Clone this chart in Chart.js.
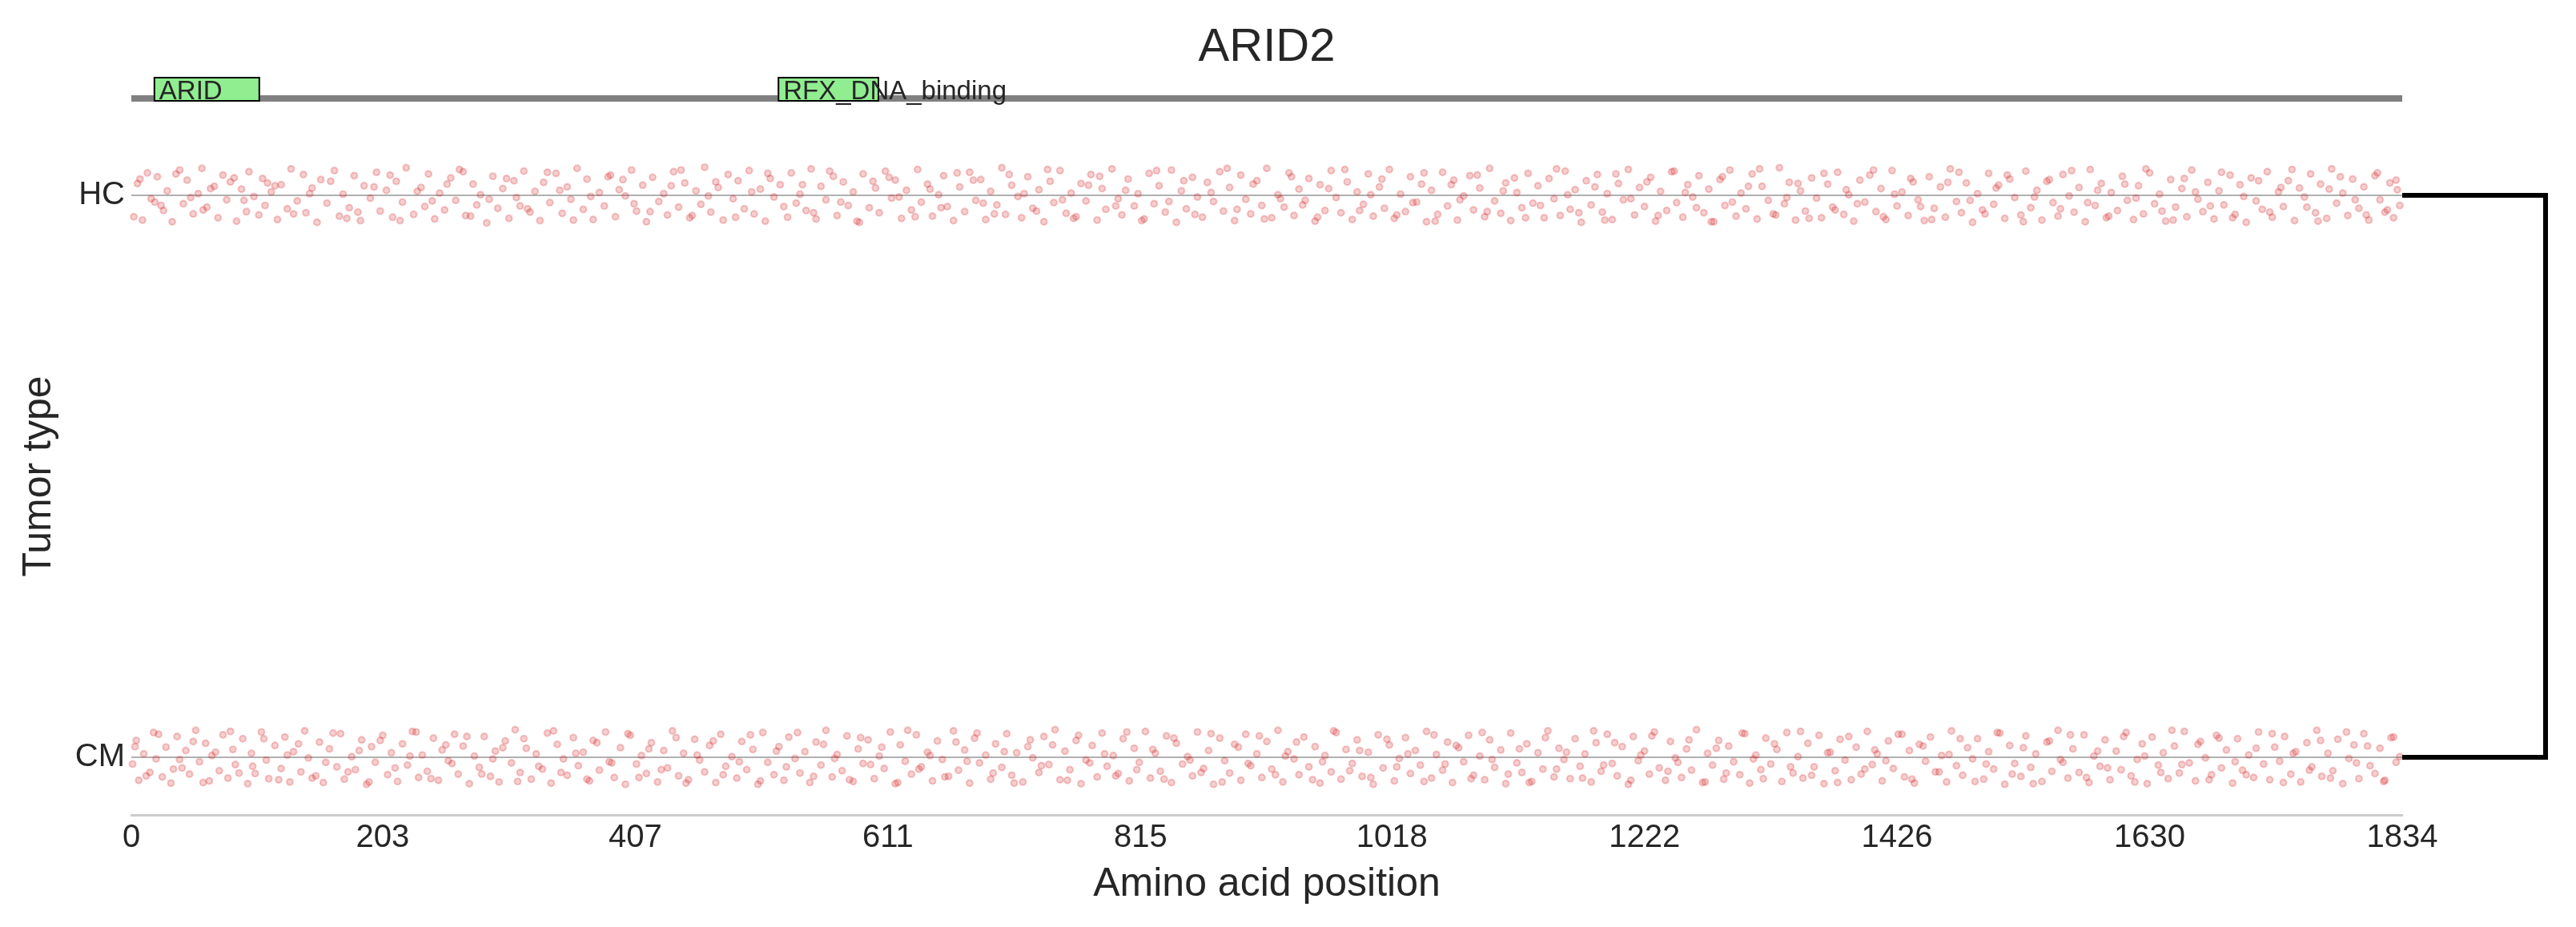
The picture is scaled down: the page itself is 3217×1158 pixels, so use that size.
<!DOCTYPE html>
<html>
<head>
<meta charset="utf-8">
<script src="https://cdn.jsdelivr.net/npm/chart.js@4.4.1/dist/chart.umd.min.js"></script>
<style>
  html, body { margin: 0; padding: 0; background: #ffffff; }
  canvas { display: block; }
</style>
</head>
<body>
<canvas id="c" width="3217" height="1158"></canvas>
<script>
// ---------------- data ----------------
const geneName = 'ARID2';
const yCategories = ['HC', 'CM'];
const xTickLabels = [0, 203, 407, 611, 815, 1018, 1222, 1426, 1630, 1834];
const proteinLength = 1834;
const domainNames = ['ARID', 'RFX_DNA_binding'];
const domainStarts = [18, 522];
const domainEnds = [104, 604];

// [amino acid position, jitter (thousandths of a category step)]
const hcPoints = [
[2,38],[5,-21],[9,44],[13,-40],[16,6],[21,-33],[26,27],[29,-8],[33,47],[39,-45],[42,15],[45,-27],[50,33],[54,-3],[57,-48],[61,21],[67,-16],[70,40],[74,-36],[77,8],
[80,-24],[85,46],[89,-11],[93,29],[95,-42],[99,2],[103,35],[106,-30],[108,18],[113,-6],[118,43],[121,-19],[126,24],[129,-47],[134,10],[139,-37],[141,31],[146,-13],[150,48],[153,-28],
[158,14],[164,-44],[168,37],[171,-2],[176,22],[180,-35],[185,45],[188,-17],[193,5],[198,-41],[201,28],[206,-9],[211,39],[214,-25],[219,12],[222,-49],[228,34],[234,-14],[237,20],[240,-38],
[245,42],[249,-4],[253,26],[258,-31],[262,9],[265,-46],[270,36],[276,-20],[279,17],[282,-1],[287,49],[292,-34],[296,23],[300,-12],[305,41],[309,-26],[311,4],[317,-43],[322,30],[326,-7],
[330,45],[333,-23],[338,13],[343,-39],[348,32],[352,-15],[355,7],[360,-48],[365,25],[368,-29],[373,43],[378,-5],[382,19],[387,-36],[391,38],[394,-10],[399,1],[404,-45],[408,28],[413,-18],
[416,47],[421,-32],[426,11],[430,-3],[433,35],[438,-42],[442,21],[447,-22],[451,40],[456,-8],[460,16],[463,-50],[468,30],[474,-14],[478,44],[482,-37],[486,6],[490,-26],[495,24],[499,-44],
[503,33],[508,-11],[512,46],[516,-30],[519,3],[524,-19],[530,39],[533,-40],[537,14],[540,-2],[545,27],[549,-47],[553,42],[557,-16],[561,8],[567,-34],[570,36],[575,-24],[579,18],[583,-6],
[588,48],[591,-38],[596,22],[601,-13],[604,31],[609,-43],[614,5],[617,-27],[622,41],[626,-9],[630,26],[635,-46],[638,12],[643,-20],[647,37],[652,-1],[656,-35],[659,20],[664,45],[669,-15],
[673,29],[677,-41],[682,9],[686,-28],[690,43],[694,-7],[699,17],[703,-49],[706,34],[711,-18],[716,2],[719,40],[724,-33],[728,23],[733,-10],[737,47],[742,-25],[745,13],[750,-44],[755,32],
[759,-4],[763,38],[767,-21],[771,10],[775,-37],[780,44],[784,-12],[787,25],[792,-47],[797,6],[800,35],[805,-29],[810,19],[813,-3],[818,42],[822,-39],[826,15],[830,-17],[835,30],[840,-45],
[844,48],[848,-8],[852,24],[857,-32],[861,3],[865,39],[869,-23],[874,11],[879,-42],[882,28],[887,-14],[891,45],[896,-36],[900,7],[904,33],[909,-26],[913,18],[917,-48],[921,40],[926,-1],
[931,21],[935,-40],[939,36],[943,-11],[948,9],[951,-30],[956,46],[960,-19],[964,27],[969,-44],[973,4],[977,31],[982,-24],[986,43],[990,-6],[995,16],[999,-38],[1003,37],[1008,-15],[1012,23],
[1016,-46],[1020,41],[1025,-2],[1029,29],[1033,-33],[1038,12],[1042,-20],[1046,47],[1050,-9],[1055,34],[1059,-41],[1063,19],[1068,-27],[1071,44],[1076,1],[1081,-35],[1084,26],[1089,-13],[1093,38],[1097,-48],
[1101,10],[1106,32],[1110,-22],[1114,45],[1119,-5],[1123,22],[1128,-39],[1132,14],[1136,-17],[1141,40],[1145,-30],[1149,6],[1154,36],[1158,-43],[1162,25],[1166,-10],[1171,48],[1175,-26],[1179,17],[1184,-37],
[1188,30],[1192,-3],[1196,43],[1201,-21],[1205,8],[1209,-46],[1214,35],[1218,-14],[1222,20],[1227,-32],[1231,46],[1235,-7],[1240,27],[1244,-42],[1248,13],[1253,39],[1257,-19],[1261,3],[1266,-35],[1270,31],
[1274,-11],[1278,47],[1283,-28],[1287,18],[1291,-45],[1296,37],[1300,-4],[1304,24],[1309,-38],[1313,42],[1317,-16],[1322,9],[1326,33],[1331,-49],[1335,15],[1339,-23],[1344,44],[1348,-8],[1352,28],[1357,-31],
[1361,5],[1365,40],[1370,-20],[1374,21],[1378,-41],[1383,34],[1387,-1],[1391,46],[1396,-27],[1400,12],[1404,-36],[1409,29],[1413,-12],[1417,43],[1422,-44],[1426,19],[1430,-6],[1435,36],[1439,-24],[1443,8],
[1448,45],[1452,-33],[1456,23],[1461,-15],[1465,39],[1469,-47],[1474,11],[1478,31],[1482,-22],[1487,48],[1491,-3],[1495,26],[1500,-39],[1504,16],[1508,-18],[1513,41],[1517,-29],[1521,4],[1526,35],[1530,-43],
[1534,22],[1539,-9],[1543,44],[1547,-25],[1552,13],[1556,37],[1560,-37],[1565,1],[1569,30],[1573,-14],[1578,47],[1582,-46],[1586,18],[1591,-21],[1595,40],[1599,-5],[1604,27],[1608,-34],[1612,9],[1617,43],
[1621,-17],[1625,33],[1630,-40],[1634,15],[1638,-2],[1643,46],[1647,-28],[1651,21],[1656,-12],[1660,38],[1664,-45],[1669,7],[1673,29],[1677,-23],[1682,42],[1686,-8],[1690,17],[1695,-36],[1699,34],[1703,-19],
[1708,48],[1712,-31],[1716,10],[1721,25],[1725,-42],[1729,39],[1734,-6],[1738,20],[1742,-26],[1747,45],[1751,-13],[1755,3],[1760,-38],[1764,31],[1768,-20],[1773,41],[1777,-47],[1781,14],[1786,-4],[1790,36],
[1794,-29],[1799,23],[1803,-15],[1807,44],[1812,-35],[1816,8],[1820,30],[1824,-22],[1827,40],[1830,-10],[1832,18]
];
const hcPointsB = [
[7,-29],[19,12],[24,18],[36,-38],[48,4],[58,26],[64,-12],[83,-31],[91,9],[110,-22],[116,-17],[131,33],[144,-3],[161,-25],[174,41],[183,30],[196,-15],[209,-36],[217,45],[231,-7],
[243,10],[255,-20],[268,-42],[274,37],[289,7],[303,-30],[314,19],[320,24],[336,-41],[346,-9],[357,44],[371,2],[385,-33],[397,-28],[406,15],[419,29],[436,-17],[444,-45],[453,36],[466,1],
[472,-24],[488,39],[501,-6],[514,-39],[527,20],[542,-19],[551,31],[564,-43],[573,12],[586,46],[599,-25],[612,-32],[620,3],[633,38],[645,-11],[654,22],[667,-40],[680,-27],[688,14],[697,33],
[709,-37],[721,-3],[731,28],[740,-46],[752,8],[761,41],[773,-18],[782,-34],[795,19],[803,-9],[816,45],[828,-44],[838,11],[850,-26],[859,34],[872,-5],[885,-48],[893,25],[906,-20],[915,42],
[928,6],[937,-33],[946,17],[958,39],[967,-12],[980,-46],[992,27],[1001,-1],[1010,-29],[1022,35],[1035,13],[1044,-40],[1053,46],[1066,-19],[1073,8],[1087,-36],[1095,29],[1108,-8],[1117,-31],[1126,40],
[1138,18],[1151,-47],[1160,-1],[1169,31],[1182,-15],[1190,44],[1199,-38],[1211,6],[1224,-24],[1233,36],[1246,-43],[1255,-5],[1264,22],[1276,47],[1285,-33],[1293,12],[1306,-16],[1315,-47],[1328,35],[1337,4],
[1346,-21],[1355,41],[1367,-39],[1376,26],[1385,-10],[1394,15],[1407,-45],[1415,38],[1424,-2],[1437,-30],[1445,20],[1454,43],[1467,-23],[1476,-41],[1485,9],[1497,33],[1506,-13],[1515,-36],[1528,47],[1537,3],
[1549,-28],[1558,24],[1567,-44],[1580,13],[1588,-9],[1597,37],[1610,-20],[1619,5],[1627,-47],[1640,28],[1649,44],[1658,-30],[1667,-6],[1679,19],[1688,-41],[1697,40],[1706,2],[1718,-26],[1727,30],[1736,-14],
[1745,-46],[1757,21],[1766,46],[1775,-11],[1784,-33],[1796,8],[1805,35],[1814,-40],[1822,26],[1829,-27]
];

const cmPoints = [
[1,12],[4,-30],[6,41],[10,-6],[15,27],[18,-44],[20,3],[25,35],[28,-18],[32,46],[37,-37],[41,19],[44,-12],[47,30],[52,-48],[55,8],[60,-25],[63,42],[65,-3],[71,24],
[74,-40],[78,37],[82,-14],[84,13],[90,-33],[94,47],[97,-7],[100,29],[105,-45],[109,5],[111,38],[116,-21],[121,20],[124,-36],[128,44],[131,-10],[137,26],[140,-47],[143,1],[149,33],
[152,-27],[155,45],[160,-15],[166,17],[169,-42],[172,39],[178,-1],[181,22],[186,-31],[190,48],[194,-19],[197,9],[203,-39],[207,31],[210,-8],[215,43],[219,-24],[223,14],[227,-46],[232,36],
[235,-4],[239,25],[244,-34],[248,41],[251,-13],[256,6],[261,-41],[264,30],[268,-20],[273,47],[277,-2],[281,18],[285,-37],[290,34],[294,-11],[297,44],[302,-29],[307,10],[310,-49],[314,27],
[319,-16],[323,39],[327,-6],[332,21],[336,-43],[339,46],[344,-23],[349,3],[352,32],[357,-35],[361,15],[365,-9],[370,42],[373,-30],[378,23],[383,-45],[386,8],[390,36],[395,-17],[399,48],
[403,-39],[408,12],[412,-3],[416,29],[420,-26],[425,44],[430,-12],[433,19],[437,-47],[442,33],[446,-7],[450,40],[455,-32],[459,5],[463,26],[467,-21],[472,45],[476,-41],[480,16],[485,-1],
[489,37],[493,-28],[497,22],[502,-14],[506,48],[510,-44],[514,9],[519,31],[523,-19],[527,41],[531,-36],[536,2],[540,28],[544,-10],[548,45],[553,-27],[557,14],[561,-48],[566,35],[570,-5],
[574,24],[578,-38],[583,43],[587,-15],[591,11],[595,-31],[600,38],[604,-2],[608,20],[613,-45],[617,47],[621,-22],[625,7],[630,30],[634,-40],[638,17],[643,-9],[647,42],[651,-29],[655,4],
[660,34],[664,-47],[668,23],[673,-13],[677,46],[681,-34],[685,10],[690,-4],[694,39],[698,-24],[703,18],[707,-42],[711,32],[715,-8],[720,44],[724,-19],[728,1],[733,27],[737,-37],[741,13],
[746,-49],[750,40],[754,-11],[758,22],[763,-30],[767,47],[771,5],[776,-21],[780,35],[784,-43],[788,16],[793,-3],[797,29],[801,-33],[806,42],[810,-16],[814,9],[819,-46],[823,37],[827,-7],
[831,25],[836,-38],[840,45],[844,-25],[849,12],[853,-1],[857,33],[861,-45],[866,20],[870,-12],[874,48],[879,-34],[883,6],[887,28],[891,-23],[896,41],[900,-41],[904,15],[909,-6],[913,36],
[917,-28],[921,21],[926,-48],[930,44],[934,-10],[939,3],[943,31],[947,-36],[951,17],[956,-19],[960,46],[964,-3],[969,26],[973,-44],[977,39],[981,-14],[986,11],[990,-31],[994,34],[999,-9],
[1003,48],[1007,-40],[1011,19],[1016,-22],[1020,42],[1024,2],[1029,-35],[1033,29],[1037,-12],[1041,14],[1046,-46],[1050,37],[1054,-5],[1059,23],[1063,-27],[1067,45],[1072,-17],[1076,8],[1080,-39],[1084,32],
[1089,-2],[1093,40],[1097,-31],[1101,18],[1106,-13],[1110,47],[1114,-43],[1119,10],[1123,27],[1127,-24],[1131,43],[1136,-8],[1140,21],[1144,-47],[1149,35],[1153,-16],[1157,4],[1162,38],[1166,-33],[1170,16],
[1174,-6],[1179,44],[1183,-26],[1187,25],[1192,-41],[1196,11],[1200,33],[1204,-19],[1209,48],[1213,-37],[1217,6],[1222,-11],[1226,30],[1230,-45],[1234,19],[1239,41],[1243,-28],[1247,1],[1252,36],[1256,-15],
[1260,23],[1264,-49],[1269,45],[1273,-7],[1277,14],[1282,-30],[1286,39],[1290,-20],[1294,8],[1299,31],[1303,-42],[1307,46],[1312,-4],[1316,22],[1320,-34],[1324,12],[1329,-14],[1333,43],[1337,-44],[1342,28],
[1346,-1],[1350,37],[1354,-25],[1359,17],[1363,-39],[1367,47],[1372,-9],[1376,24],[1380,-32],[1384,5],[1389,40],[1393,-18],[1397,30],[1402,-46],[1406,13],[1410,-6],[1414,42],[1419,-29],[1423,20],[1427,-41],
[1432,35],[1436,-12],[1440,46],[1444,-23],[1449,7],[1453,-36],[1457,26],[1462,-3],[1466,44],[1470,-47],[1474,15],[1479,32],[1483,-17],[1487,3],[1491,-33],[1496,39],[1500,-10],[1504,21],[1509,-43],[1513,48],
[1517,-21],[1521,11],[1526,34],[1530,-38],[1534,18],[1538,-6],[1543,43],[1547,-27],[1551,25],[1556,-48],[1560,9],[1564,37],[1568,-15],[1573,27],[1577,-40],[1581,45],[1585,-2],[1590,16],[1594,-31],[1598,40],
[1603,-11],[1607,22],[1611,-44],[1615,33],[1620,4],[1624,-24],[1628,47],[1632,-36],[1637,14],[1641,-8],[1645,38],[1650,-20],[1654,28],[1658,-46],[1662,10],[1667,42],[1671,-28],[1675,1],[1680,31],[1684,-39],
[1688,19],[1692,-13],[1697,46],[1701,-33],[1705,23],[1710,-4],[1714,36],[1718,-45],[1722,12],[1727,40],[1731,-18],[1735,7],[1739,-37],[1744,30],[1748,-10],[1752,44],[1757,-26],[1761,17],[1765,-48],[1769,34],
[1774,-7],[1778,24],[1782,-32],[1786,47],[1791,2],[1795,-22],[1799,38],[1803,-42],[1808,15],[1812,29],[1816,-16],[1820,41],[1825,-35],[1829,9],[1832,-1]
];
const cmPointsB = [
[3,-19],[12,33],[22,-41],[34,21],[39,4],[50,-28],[58,45],[68,-9],[80,-46],[87,28],[98,16],[107,-33],[119,40],[126,-4],[135,-24],[146,37],[157,9],[163,-43],[175,26],[184,-12],
[192,44],[201,-30],[213,19],[225,-2],[230,-45],[242,38],[254,-22],[259,11],[271,-37],[283,30],[292,3],[300,-17],[312,43],[317,-33],[329,16],[341,-47],[347,27],[359,-7],[368,39],[376,-26],
[388,10],[401,-42],[410,36],[418,-15],[428,22],[440,-35],[448,46],[457,-4],[470,-29],[478,31],[491,8],[500,-40],[508,42],[521,-11],[529,17],[538,-44],[551,34],[559,-23],[568,2],[580,40],
[589,-35],[597,13],[606,-18],[619,45],[627,-48],[636,21],[645,-3],[657,35],[666,-27],[675,7],[683,-43],[696,28],[705,-10],[713,46],[726,-31],[735,15],[744,-22],[756,41],[765,-39],[774,10],
[786,-6],[795,33],[804,-45],[812,22],[825,-14],[834,39],[842,-34],[855,5],[864,27],[872,-42],[881,44],[894,-18],[902,11],[911,-38],[924,31],[932,-2],[941,-27],[954,40],[962,8],[971,-47],
[984,24],[992,-12],[1001,36],[1014,-32],[1022,17],[1031,-6],[1044,43],[1052,-40],[1061,12],[1070,-21],[1082,38],[1091,-44],[1099,4],[1112,30],[1121,-15],[1129,45],[1142,-35],[1151,21],[1159,-9],[1172,37],
[1181,-47],[1189,14],[1198,-26],[1211,41],[1219,-4],[1228,-38],[1241,25],[1249,9],[1258,-31],[1271,44],[1280,-16],[1288,28],[1301,-43],[1310,3],[1318,38],[1327,-24],[1340,17],[1348,-46],[1357,32],[1370,-8],
[1378,45],[1387,-37],[1400,21],[1408,-13],[1417,6],[1430,-41],[1438,39],[1447,-20],[1460,26],[1468,-5],[1477,-33],[1489,43],[1498,12],[1507,-44],[1519,30],[1528,-17],[1536,47],[1549,-29],[1558,4],[1566,-40],
[1579,36],[1588,-11],[1596,19],[1609,-37],[1618,44],[1626,-2],[1639,27],[1648,-48],[1656,13],[1669,-23],[1678,40],[1686,-34],[1699,8],[1708,31],[1716,-16],[1729,-42],[1738,45],[1746,-7],[1759,23],[1768,-30],
[1776,37],[1789,-45],[1797,10],[1806,-20],[1819,43],[1827,-36]
];

// ---------------- chart ----------------
const FONT = "'Liberation Sans', Arial, Helvetica, sans-serif";
const TEXT = '#262626';
Chart.defaults.font.family = FONT;
Chart.defaults.color = TEXT;

const JIT = 0.001;
function toXY(points, cat) {
  return points.map(p => ({ x: p[0], y: cat + p[1] * JIT }));
}

const pointStyle = {
  pointRadius: 3.9,
  pointBorderWidth: 2.2,
  pointBackgroundColor: 'rgba(214,39,40,0.22)',
  pointBorderColor: 'rgba(214,39,40,0.24)',
  pointHoverRadius: 3.9,
  showLine: false,
  clip: false
};

const domainPlugin = {
  id: 'domains',
  afterDraw(chart) {
    const { ctx, scales: { x, y }, chartArea } = chart;
    const barTop = y.getPixelForValue(-0.1781);
    const barBot = y.getPixelForValue(-0.1667);
    ctx.save();
    // protein backbone
    ctx.fillStyle = '#808080';
    ctx.fillRect(x.getPixelForValue(0), barTop, x.getPixelForValue(proteinLength) - x.getPixelForValue(0), barBot - barTop);
    // domains
    const boxTop = y.getPixelForValue(-0.2108);
    const boxBot = y.getPixelForValue(-0.1667);
    for (let i = 0; i < domainNames.length; i++) {
      const x0 = x.getPixelForValue(domainStarts[i]);
      const x1 = x.getPixelForValue(domainEnds[i]);
      ctx.fillStyle = '#90ee90';
      ctx.fillRect(x0, boxTop, x1 - x0, boxBot - boxTop);
      ctx.strokeStyle = '#000000';
      ctx.lineWidth = 2;
      ctx.strokeRect(x0 + 1, boxTop + 1, x1 - x0 - 2, boxBot - boxTop - 2);
    }
    ctx.fillStyle = TEXT;
    ctx.font = '33px ' + FONT;
    ctx.textAlign = 'left';
    ctx.textBaseline = 'alphabetic';
    for (let i = 0; i < domainNames.length; i++) {
      const x0 = x.getPixelForValue(domainStarts[i]);
      ctx.fillText(domainNames[i], x0 + 7, boxBot - 3);
    }
    // bracket joining the two tumour types
    const yHC = y.getPixelForValue(0);
    const yCM = y.getPixelForValue(1);
    const xR = chartArea.right;
    const xB = chartArea.right + 179;
    ctx.strokeStyle = '#000000';
    ctx.lineWidth = 6;
    ctx.lineJoin = 'miter';
    ctx.lineCap = 'butt';
    ctx.beginPath();
    ctx.moveTo(xR, yHC);
    ctx.lineTo(xB, yHC);
    ctx.lineTo(xB, yCM);
    ctx.lineTo(xR, yCM);
    ctx.stroke();
    ctx.restore();
  }
};

new Chart(document.getElementById('c'), {
  type: 'scatter',
  data: {
    datasets: [
      Object.assign({ label: yCategories[0], data: toXY(hcPoints.concat(hcPointsB), 0) }, pointStyle),
      Object.assign({ label: yCategories[1], data: toXY(cmPoints.concat(cmPointsB), 1) }, pointStyle)
    ]
  },
  options: {
    responsive: false,
    animation: false,
    devicePixelRatio: 1,
    layout: { padding: { left: 0, right: 217, top: 0, bottom: 0 } },
    plugins: {
      legend: { display: false },
      tooltip: { enabled: false },
      title: {
        display: true,
        fullSize: false,
        text: geneName,
        color: TEXT,
        font: { family: FONT, size: 58, weight: 'normal' },
        padding: { top: 25, bottom: 77.4 }
      }
    },
    scales: {
      x: {
        type: 'linear',
        min: 0,
        max: proteinLength,
        afterBuildTicks(scale) { scale.ticks = xTickLabels.map(v => ({ value: v })); },
        afterFit(scale) { scale.height = 140; },
        ticks: {
          autoSkip: false, maxRotation: 0, padding: 5,
          color: TEXT, font: { family: FONT, size: 40 },
          callback: v => String(v)
        },
        grid: { color: 'rgba(0,0,0,0)', drawTicks: false, lineWidth: 1 },
        border: { display: true, color: '#cccccc', width: 3 },
        title: {
          display: true, text: 'Amino acid position', color: TEXT,
          font: { family: FONT, size: 50 }, padding: { top: 0, bottom: 23 }
        }
      },
      y: {
        type: 'linear',
        reverse: true,
        min: -0.10256,
        max: 1.1026,
        afterBuildTicks(scale) { scale.ticks = yCategories.map((c, i) => ({ value: i })); },
        afterFit(scale) { scale.width = 164; },
        ticks: {
          autoSkip: false, padding: 8,
          color: TEXT, font: { family: FONT, size: 40 },
          callback: v => yCategories[v] !== undefined ? yCategories[v] : ''
        },
        grid: { color: '#b0b0b0', lineWidth: 2, drawTicks: false },
        border: { display: false },
        title: {
          display: true, text: 'Tumor type', color: TEXT,
          font: { family: FONT, size: 50 }, padding: { top: 19, bottom: 0 }
        }
      }
    }
  },
  plugins: [domainPlugin]
});
</script>
</body>
</html>
